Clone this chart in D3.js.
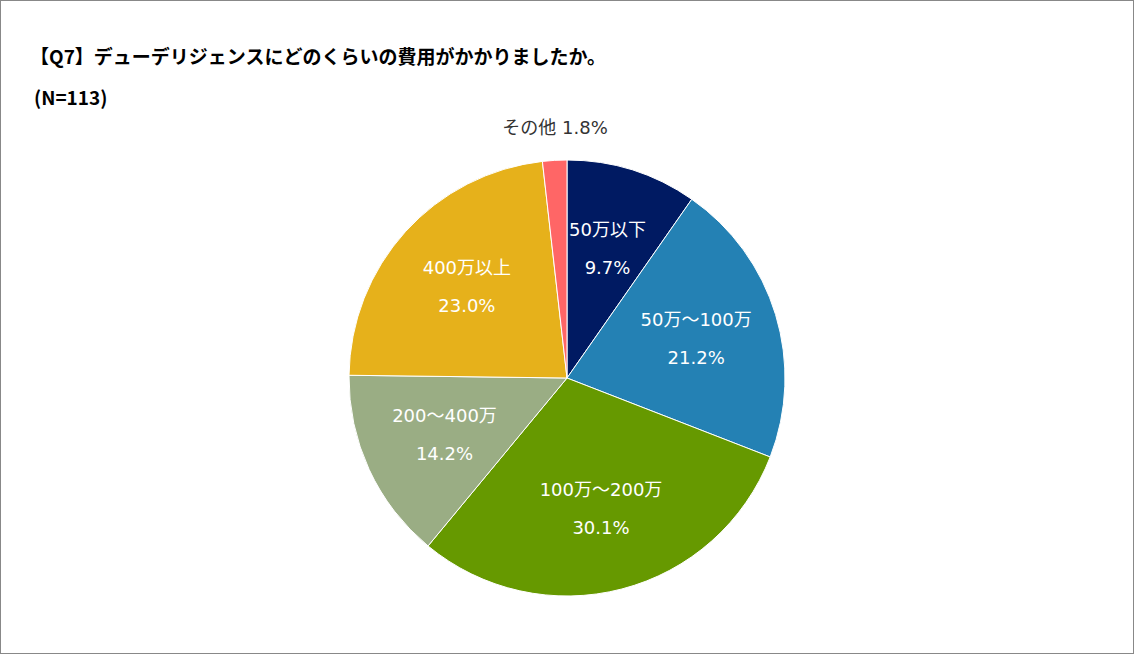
<!DOCTYPE html>
<html><head><meta charset="utf-8">
<script src="https://cdn.jsdelivr.net/npm/d3@7"></script>
<style>body{margin:0;background:#fff}svg{display:block;font-family:"DejaVu Sans","Noto Sans CJK JP",sans-serif}</style>
</head><body><svg id="c" width="1134" height="654"></svg>
<script>
const categories = ["50万以下","50万～100万","100万～200万","200～400万","400万以上","その他"];
const values = [9.7,21.2,30.1,14.2,23.0,1.8];
const colors = ["#001A62","#2481B4","#669900","#9AAD84","#E6B11B","#FF6666"];
const svg = d3.select("#c");
svg.append("rect").attr("x",0.5).attr("y",0.5).attr("width",1133).attr("height",653).attr("fill","#fff").attr("stroke","#888");
svg.append("text").attr("x",30).attr("y",64).attr("font-size",19).attr("font-weight","bold").attr("fill","#000")
  .attr("font-family","'Noto Sans CJK JP',sans-serif").text("【Q7】デューデリジェンスにどのくらいの費用がかかりましたか。");
svg.append("text").attr("x",34).attr("y",105).attr("font-size",19).attr("font-weight","bold").attr("fill","#000")
  .attr("font-family","'Noto Sans CJK JP',sans-serif").text("(N=113)");
const cx=567, cy=378, R=218;
const pie = d3.pie().sort(null).value(d=>d)(values);
const arc = d3.arc().innerRadius(0).outerRadius(R);
const g = svg.append("g").attr("transform",`translate(${cx},${cy})`);
g.selectAll("path").data(pie).join("path").attr("d",arc).attr("fill",(d,i)=>colors[i]).attr("stroke","#fff").attr("stroke-width",1);
const la = d3.arc().innerRadius(135).outerRadius(135);
pie.forEach((d,i)=>{
  if(i===5){
    g.append("text").attr("x",-12).attr("y",-244).attr("text-anchor","middle").attr("font-size",18).attr("fill","#333")
      .text(categories[i]+" "+values[i].toFixed(1)+"%");
    return;
  }
  const [x,y]=la.centroid(d);
  const t=g.append("text").attr("text-anchor","middle").attr("font-size",18).attr("fill","#fff");
  t.append("tspan").attr("x",x).attr("y",y-13).text(categories[i]);
  t.append("tspan").attr("x",x).attr("y",y+25).text(values[i].toFixed(1)+"%");
});
</script></body></html>
